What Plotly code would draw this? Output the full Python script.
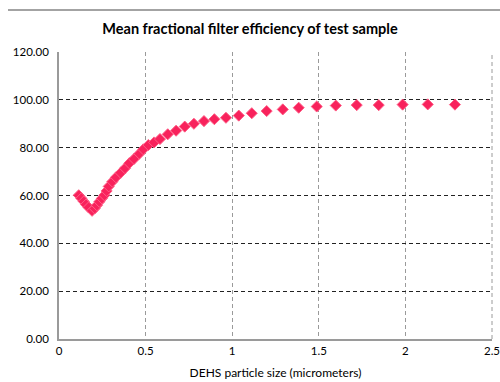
import plotly.graph_objects as go

particle_size = [0.114, 0.129, 0.143, 0.156, 0.171, 0.191, 0.206, 0.219, 0.233, 0.248,
                 0.262, 0.275, 0.287, 0.308, 0.329, 0.356, 0.381, 0.406, 0.433, 0.464,
                 0.487, 0.516, 0.549, 0.583, 0.628, 0.676, 0.726, 0.779, 0.837, 0.897,
                 0.964, 1.038, 1.113, 1.199, 1.292, 1.384, 1.488, 1.598, 1.719, 1.846,
                 1.984, 2.129, 2.286]
efficiency = [60.1, 58.8, 57.5, 56.2, 55.0, 53.6, 54.6, 55.9, 57.4, 58.8,
              60.1, 61.9, 63.8, 65.8, 67.6, 69.5, 71.4, 73.5, 75.3, 77.5,
              79.3, 81.1, 82.2, 83.6, 85.6, 87.1, 88.8, 90.0, 91.1, 91.9,
              92.5, 93.4, 94.4, 95.3, 96.0, 96.7, 97.2, 97.6, 97.8, 97.8,
              98.0, 98.1, 98.0]

x_ticks = [0, 0.5, 1, 1.5, 2, 2.5]
x_tick_labels = ["0", "0.5", "1", "1.5", "2", "2.5"]
y_ticks = [0, 20, 40, 60, 80, 100, 120]
y_tick_labels = ["0.00", "20.00", "40.00", "60.00", "80.00", "100.00", "120.00"]

font_family = "Lato, 'Open Sans', sans-serif"

fig = go.Figure()
fig.add_trace(go.Scatter(
    x=particle_size, y=efficiency, mode="markers",
    marker=dict(symbol="diamond", size=8.5, color="#F8225C",
                line=dict(color="#FF5C85", width=1)),
    showlegend=False, cliponaxis=False,
))

fig.update_layout(
    width=500, height=382,
    margin=dict(l=59, r=8, t=52, b=43, autoexpand=False),
    paper_bgcolor="white", plot_bgcolor="white",
    font=dict(family=font_family, size=11.5, color="#000000"),
    title=dict(text="<b>Mean fractional filter efficiency of test sample</b>",
               x=0.5, xanchor="center", y=1 - 29 / 382, yanchor="middle",
               font=dict(family=font_family, size=14.5, color="#000000")),
    xaxis=dict(range=[0, 2.5], tickvals=x_ticks, ticktext=x_tick_labels,
               automargin=False, ticklabeloverflow="allow",
               showgrid=True, gridcolor="#9a9a9a", griddash="4px,3px", gridwidth=1,
               showline=True, linecolor="#9a9a9a", linewidth=1.5,
               zeroline=False, ticks="", mirror=False,
               title=dict(text="DEHS particle size (micrometers)", standoff=13,
                          font=dict(size=12, family=font_family))),
    yaxis=dict(range=[0, 120], tickvals=y_ticks, ticktext=y_tick_labels,
               automargin=False,
               showgrid=True, gridcolor="#222222", griddash="4px,3px", gridwidth=1,
               showline=True, linecolor="#9a9a9a", linewidth=1.5,
               zeroline=False, ticks="", ticklabelstandoff=6),
    shapes=[
        dict(type="line", xref="paper", yref="paper", layer="above",
             x0=1, x1=1, y0=0, y1=1,
             line=dict(color="#9a9a9a", width=1, dash="4px,3px")),
    ],
    annotations=[
        dict(text=" ", xref="paper", yref="paper", x=-0.1178, y=1.146,
             xanchor="left", yanchor="middle", showarrow=False,
             width=492, height=2, borderpad=0, borderwidth=0,
             bgcolor="#a3a3a3", font=dict(size=1)),
    ],
)

fig.write_html("out.html", config={"displayModeBar": False},
               post_script="document.body.style.margin='0';document.body.style.padding='0';")
